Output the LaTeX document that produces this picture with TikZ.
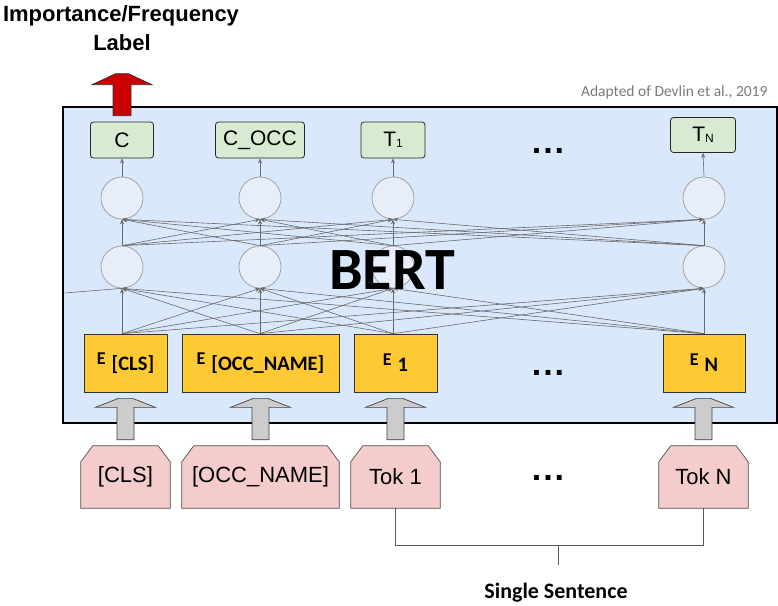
\documentclass[tikz,border=0pt]{standalone}
\usepackage{fontspec}
\setmainfont{Liberation Sans}
\newfontfamily\calib{Carlito}
\usetikzlibrary{calc,arrows.meta}

\definecolor{bertbg}{HTML}{DAE8FC}
\definecolor{cellfill}{HTML}{E8EEF9}
\definecolor{cellline}{HTML}{9A9A9A}
\definecolor{outfill}{HTML}{D9EAD3}
\definecolor{embfill}{HTML}{FFC933}
\definecolor{tokfill}{HTML}{F4CCCC}
\definecolor{wirecol}{HTML}{6A6A6A}
\definecolor{redfill}{HTML}{CC0000}
\definecolor{fatfill}{HTML}{CCCCCC}

\pgfdeclarelayer{background}
\pgfsetlayers{background,main}

\tikzset{
  outbox/.style={draw=black!85, line width=0.8pt, fill=outfill, rounded corners=3pt,
    minimum height=36pt, inner sep=0pt, font=\fontsize{21}{24}\selectfont},
  cell/.style={circle, draw=cellline, line width=0.7pt, fill=cellfill, minimum size=42pt, inner sep=0pt},
  embbox/.style={draw=black!80, line width=0.7pt, fill=embfill, minimum height=58pt, inner sep=0pt},
  tokbox/.style={minimum height=62pt, inner sep=0pt, font=\fontsize{22}{24}\selectfont},
  tokshape/.style={draw=black!70, line width=0.7pt, fill=tokfill},
  wire/.style={draw=wirecol, line width=0.6pt, -{Stealth[length=5pt,width=4pt]}},
  fatarrow/.style={draw=black!75, line width=0.7pt, fill=fatfill},
  redarrow/.style={draw=black!80, line width=0.7pt, fill=redfill},
  dots/.style={font=\fontsize{34}{34}\selectfont\bfseries},
}

\newcommand{\emblabel}[1]{{\calib\bfseries\fontsize{18}{18}\selectfont E}\hspace{6pt}\raisebox{-6pt}{\calib\bfseries\fontsize{20.5}{20}\selectfont #1}}

\begin{document}
\begin{tikzpicture}[x=1pt,y=-1pt]
\useasboundingbox (0,0) rectangle (778,605);

% titles
\node[font=\fontsize{22}{22}\selectfont\bfseries] (title1) at (121,16) {Importance/Frequency};
\node[font=\fontsize{22}{22}\selectfont\bfseries] (title2) at (122,43) {Label};
\node[font=\calib\fontsize{15.5}{15.5}\selectfont, text=black!52, anchor=east] (credit) at (771,92) {Adapted of Devlin et al., 2019};

% the encoder block
\node[draw=black, line width=2.6pt, fill=bertbg, minimum width=714pt, minimum height=316pt, inner sep=0pt] (bert) at (420,265) {};

% outputs
\node[outbox, minimum width=63pt] (o1) at (122,140) {C};
\node[outbox, minimum width=89pt] (o2) at (260,140) {C\_OCC};
\node[outbox, minimum width=64pt] (o3) at (393,140) {T\raisebox{-1pt}{\fontsize{12}{12}\selectfont 1}};
\node[outbox, minimum width=65pt, minimum height=35pt] (o4) at (703,135) {T\raisebox{-1pt}{\fontsize{12}{12}\selectfont N}};
\node[dots] (dtop) at (548,151) {.\kern2pt.\kern2pt.};

% embeddings
\node[embbox, minimum width=83pt] (e1) at (125.5,363) {\emblabel{[CLS]}};
\node[embbox, minimum width=157pt] (e2) at (260.5,363) {\emblabel{[OCC\_NAME]}};
\node[embbox, minimum width=83pt] (e3) at (395.5,363) {\emblabel{1}};
\node[embbox, minimum width=82pt] (e4) at (704,363) {\emblabel{N}};
\node[dots] (dmid) at (548,373) {.\kern2pt.\kern2pt.};

% transformer cells
\foreach \k/\x in {1/122,2/260,3/393,4/704}{
  \node[cell] (tc\k) at (\x,198) {};
  \node[cell] (bc\k) at (\x,267) {};
}

% fully connected wiring between layers
\foreach \i in {1,...,4}{
  \foreach \j in {1,...,4}{
    \ifnum\i=\j\relax\else
      \draw[wire] (e\i.north -| bc\i) -- (bc\j.south);
      \draw[wire] (bc\i.north) -- (tc\j.south);
    \fi
  }
  \draw[wire] (e\i.north -| bc\i) -- (bc\i.south);
  \draw[wire] (bc\i.north) -- (tc\i.south);
  \draw[wire] (tc\i.north) -- (o\i.south);
}
\coordinate (leftin) at (bert.west |- 0,293);
\draw[wire, -] ([xshift=3pt]leftin) -- (bc1.south);

\node[font=\calib\bfseries\fontsize{60}{60}\selectfont] (berttxt) at (392,270) {BERT};

% input tokens
\node[tokbox, minimum width=89pt] (t1) at (125.5,477) {[CLS]};
\node[tokbox, minimum width=157pt] (t2) at (260.5,477) {[OCC\_NAME]};
\node[tokbox, minimum width=89pt] (t3) at (395.5,477) {Tok 1};
\node[tokbox, minimum width=89pt] (t4) at (703.5,477) {Tok N};
\node[dots] (dbot) at (548,478) {.\kern2pt.\kern2pt.};
\begin{pgfonlayer}{background}
\foreach \k in {1,...,4}{
  \path[tokshape] (t\k.south west) -- ($(t\k.north west)+(0,-16pt)$)
    -- ($(t\k.north west)+(12pt,0)$) -- ($(t\k.north east)+(-12pt,0)$)
    -- ($(t\k.north east)+(0,-16pt)$) -- (t\k.south east) -- cycle;
}
\end{pgfonlayer}

% token to embedding arrows
\foreach \k in {1,...,4}{
  \draw[fatarrow] let \p1=(t\k.north), \p2=(e\k.south) in
    (\x1-8.5pt,\y1+6pt) -- (\x1-8.5pt,\y2-15pt) -- (\x1-30pt,\y2-15pt)
    -- (\x1-7pt,\y2-6pt) -- (\x1+7pt,\y2-6pt) -- (\x1+30pt,\y2-15pt)
    -- (\x1+8.5pt,\y2-15pt) -- (\x1+8.5pt,\y1+6pt) -- cycle;
}

% output arrow
\draw[redarrow] let \p1=(o1.north), \p2=(bert.north) in
  (\x1-9pt,\y2-10pt) -- (\x1-9pt,\y2+21pt) -- (\x1-30pt,\y2+21pt)
  -- (\x1-6.5pt,\y2+32pt) -- (\x1+6.5pt,\y2+32pt) -- (\x1+30pt,\y2+21pt)
  -- (\x1+9pt,\y2+21pt) -- (\x1+9pt,\y2-10pt) -- cycle;

% sentence bracket
\coordinate (bl) at ($(t3.south)+(0,37)$);
\coordinate (br) at ($(t4.south)+(0,37)$);
\coordinate (bm) at (558,545);
\draw[draw=black!65, line width=0.9pt] (t3.south) -- (bl) -- (br) -- (t4.south);
\draw[draw=black!65, line width=0.9pt] (bm) -- ++(0,20);
\node[font=\calib\bfseries\fontsize{22}{22}\selectfont] (sent) at (556,593) {Single Sentence};
\end{tikzpicture}
\end{document}
